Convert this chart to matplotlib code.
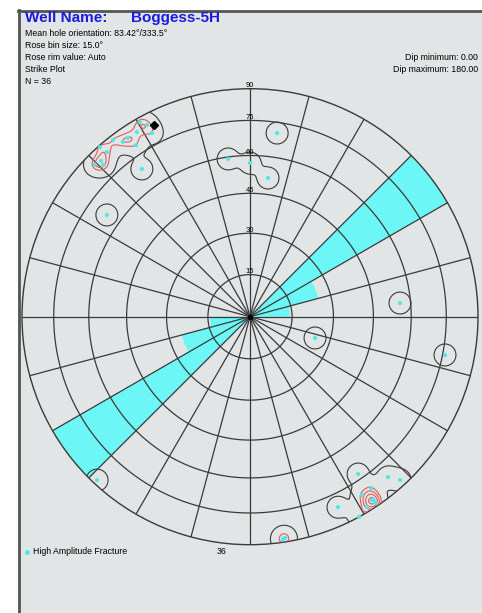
import numpy as np
import matplotlib.pyplot as plt
from matplotlib.patches import Rectangle
from matplotlib.lines import Line2D

# Strike rose: bin start azimuth (deg) and length as a fraction of the rim
rose_start = [45, 60, 75, 225, 240, 255]
rose_len = [1.0, 0.31, 0.175, 1.0, 0.31, 0.175]
bin_size = 15.0

# High amplitude fractures, azimuth / dip (N = 36)
pole_az = [330.5, 331.8, 331.9, 328.5, 325.7, 322.2, 324.0, 326.4, 318.5, 319.0,
           316.3, 314.4, 315.9, 323.8, 305.4, 352.1, 0.0, 7.4, 8.4, 84.8,
           108.1, 101.1, 223.1, 145.5, 139.3, 137.4, 144.8, 147.9, 146.4, 146.1,
           148.4, 155.2, 151.4, 146.0, 171.6, 171.0]
pole_dip = [87.8, 84.9, 80.4, 84.4, 84.4, 87.8, 84.2, 79.4, 89.2, 85.1,
            83.9, 84.6, 81.8, 69.2, 66.0, 59.2, 56.9, 51.4, 70.3, 55.7,
            24.5, 76.1, 87.9, 72.6, 82.0, 86.9, 81.2, 81.5, 86.1, 88.2,
            87.7, 81.2, 90.0, 86.5, 88.4, 88.0]

hole_inc, hole_az = 83.42, 333.5
dip_rings = [15, 30, 45, 60, 75, 90]


def eq_area(dip):
    # Schmidt net radius for a dip angle, rim = 1
    return np.sqrt(2) * np.sin(np.radians(np.asarray(dip)) / 2)


W, H = 482, 613
fig = plt.figure(figsize=(W / 100, H / 100), dpi=100)
fig.patch.set_facecolor('white')
fig.add_artist(Rectangle((18 / W, 0), 1 - 18 / W, 1 - 10 / H, transform=fig.transFigure,
                         fc='#e1e5e5', ec='none', zorder=0))
fig.add_artist(Line2D([18.5 / W, 18.5 / W], [0, 1 - 10 / H], transform=fig.transFigure,
                      color='#555555', lw=2))
fig.add_artist(Line2D([18 / W, 1], [1 - 10.5 / H, 1 - 10.5 / H], transform=fig.transFigure,
                      color='#555555', lw=2))

cx, cy, R = 250, 316.7, 228
ax = fig.add_axes([(cx - R) / W, (H - cy - R) / H, 2 * R / W, 2 * R / H], projection='polar')
ax.set_facecolor('none')
ax.set_theta_zero_location('N')
ax.set_theta_direction(-1)
ax.set_ylim(0, 1)
ax.set_xticks([])
ax.set_yticks([])
ax.grid(False)
ax.spines['polar'].set_color('#3a3a3a')
ax.spines['polar'].set_linewidth(1.0)

# rose wedges
ax.bar(np.radians(np.array(rose_start) + bin_size / 2), rose_len, width=np.radians(bin_size),
       bottom=0, color='#6cf6f6', edgecolor='none', zorder=1)

# net grid
th = np.linspace(0, 2 * np.pi, 361)
for d in dip_rings[:-1]:
    ax.plot(th, np.full_like(th, eq_area(d)), color='#3a3a3a', lw=0.9, zorder=2)
for a in range(0, 360, 15):
    ax.plot([np.radians(a)] * 2, [0, 1], color='#3a3a3a', lw=0.9, zorder=2)
for d in dip_rings:
    ax.annotate(str(d), xy=(0, eq_area(d)), xytext=(0, 2.3), textcoords='offset points',
                ha='center', va='center', fontsize=5.5, family='Liberation Sans', zorder=5)

# density contours of the poles on the projected plane
t = np.radians(pole_az)
rp = eq_area(pole_dip)
px, py = rp * np.sin(t), rp * np.cos(t)
tg, rg = np.meshgrid(np.linspace(0, 2 * np.pi, 721), np.linspace(0, 1, 301))
gx, gy = rg * np.sin(tg), rg * np.cos(tg)
s = 0.028
Z = np.zeros_like(gx)
for x0, y0 in zip(px, py):
    Z += np.exp(-((gx - x0) ** 2 + (gy - y0) ** 2) / (2 * s * s))
ax.contour(tg, rg, Z, levels=[0.23], colors='#3a3a3a', linewidths=0.8, zorder=3)
ax.contour(tg, rg, Z, levels=[1.5, 2.1, 2.7, 3.3, 3.9], colors='#e65a5a', linewidths=0.8, zorder=3)

ax.scatter(t, rp, s=9, color='#4ee8e8', edgecolors='none', zorder=4, clip_on=False)
ax.plot(np.radians(hole_az), eq_area(hole_inc), marker='D', ms=4, color='black', zorder=6)
ax.plot(0, 0, marker='o', ms=3, color='black', zorder=6)

# header
fig.text(25 / W, 1 - 18 / H, 'Well Name:', color='#1a1ae0', fontsize=11, fontweight='bold',
         family='Liberation Sans', va='center')
fig.text(131 / W, 1 - 18 / H, 'Boggess-5H', color='#1a1ae0', fontsize=11, fontweight='bold',
         family='Liberation Sans', va='center')
fs = 6.3
info = ['Mean hole orientation: %.2f\u00b0/%.1f\u00b0' % (hole_inc, hole_az),
        'Rose bin size: %.1f\u00b0' % bin_size,
        'Rose rim value: Auto',
        'Strike Plot',
        'N = %d' % len(pole_az)]
for i, line in enumerate(info):
    fig.text(25 / W, 1 - (33 + 12 * i) / H, line, fontsize=fs, family='Liberation Sans', va='center')
fig.text(478 / W, 1 - 57 / H, 'Dip minimum: 0.00', fontsize=fs, family='Liberation Sans',
         va='center', ha='right')
fig.text(478 / W, 1 - 69 / H, 'Dip maximum: 180.00', fontsize=fs, family='Liberation Sans',
         va='center', ha='right')

# legend
fig.add_artist(Line2D([27 / W], [1 - 552 / H], transform=fig.transFigure, marker='o', ms=2.5,
                      color='#4ee8e8', ls='none'))
fig.text(33 / W, 1 - 552 / H, 'High Amplitude Fracture', fontsize=fs, family='Liberation Sans',
         va='center')
fig.text(222 / W, 1 - 552 / H, str(len(pole_az)), fontsize=fs, family='Liberation Sans',
         va='center', ha='center')

fig.savefig('out.png', dpi=100)
